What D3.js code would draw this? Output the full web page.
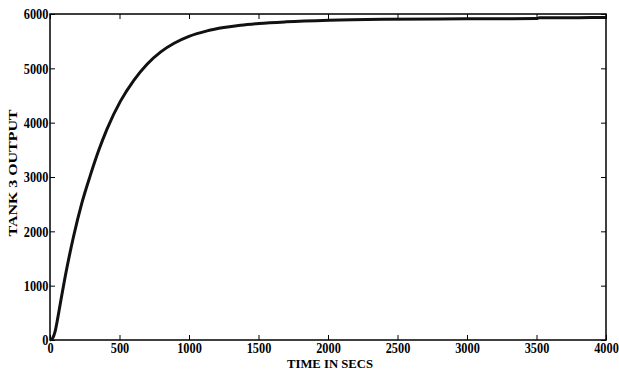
<!DOCTYPE html>
<html><head><meta charset="utf-8">
<script src="https://cdn.jsdelivr.net/npm/d3@7"></script>
<style>body{margin:0;background:#fff}svg{display:block}</style>
</head><body>
<svg id="c" width="619" height="382"></svg>
<script>
const timeSecs = [0, 18, 36, 54, 72, 108, 169, 229, 290, 350, 410, 507, 603, 700, 797, 893, 1000, 1130, 1250, 1370, 1503, 1700, 2008, 2400, 2800, 3200, 3500, 3520, 3800, 4000];
const tank3Output = [0, 30, 150, 380, 640, 1150, 1900, 2520, 3030, 3486, 3882, 4396, 4780, 5081, 5304, 5462, 5588, 5689, 5751, 5794, 5826, 5856, 5884, 5902, 5910, 5913, 5915, 5932, 5933, 5934];
const xTicks = [0, 500, 1000, 1500, 2000, 2500, 3000, 3500, 4000];
const yTicks = [0, 1000, 2000, 3000, 4000, 5000, 6000];

const svg = d3.select('#c');
const L = 50, R = 606, T = 14, B = 340;
const x = d3.scaleLinear().domain([0, 4000]).range([L, R]);
const y = d3.scaleLinear().domain([0, 6000]).range([B, T]);
const font = '"Liberation Serif","Times New Roman",serif';

svg.append('rect').attr('x', L).attr('y', T).attr('width', R - L).attr('height', B - T)
  .attr('fill', 'none').attr('stroke', '#000').attr('stroke-width', 1.5);

const styleAxis = (g, scaleText) => {
  g.select('.domain').remove();
  g.selectAll('.tick line').attr('stroke', '#000').attr('stroke-width', 1);
  g.selectAll('.tick text').attr('fill', '#000').attr('font-family', font)
    .attr('font-weight', 'bold').attr('font-size', 15);
  if (scaleText) g.selectAll('.tick text').attr('transform', 'scale(0.82,1)');
};

svg.append('g').attr('transform', `translate(0,${B})`)
  .call(d3.axisBottom(x).tickValues(xTicks).tickSizeInner(-5).tickSizeOuter(0).tickPadding(2).tickFormat(d3.format('d')))
  .call(g => styleAxis(g, true));
svg.append('g').attr('transform', `translate(0,${T})`)
  .call(d3.axisTop(x).tickValues(xTicks).tickSizeInner(-5).tickSizeOuter(0).tickFormat(''))
  .call(g => styleAxis(g, false));
svg.append('g').attr('transform', `translate(${L},0)`)
  .call(d3.axisLeft(y).tickValues(yTicks).tickSizeInner(-5).tickSizeOuter(0).tickPadding(2).tickFormat(d3.format('d')))
  .call(g => styleAxis(g, true));
svg.append('g').attr('transform', `translate(${R},0)`)
  .call(d3.axisRight(y).tickValues(yTicks).tickSizeInner(-5).tickSizeOuter(0).tickFormat(''))
  .call(g => styleAxis(g, false));

const pts = timeSecs.map((t, i) => [t, tank3Output[i]]);
svg.append('path').datum(pts)
  .attr('fill', 'none').attr('stroke', '#111').attr('stroke-width', 3)
  .attr('stroke-linejoin', 'round')
  .attr('d', d3.line().x(d => x(d[0])).y(d => y(d[1])).curve(d3.curveMonotoneX));

svg.append('text').attr('x', 330).attr('y', 368).attr('text-anchor', 'middle')
  .attr('font-family', font).attr('font-weight', 'bold').attr('font-size', 12)
  .attr('textLength', 86).attr('lengthAdjust', 'spacingAndGlyphs')
  .text('TIME IN SECS');
svg.append('text').attr('transform', 'translate(17,173) rotate(-90)').attr('text-anchor', 'middle')
  .attr('font-family', font).attr('font-weight', 'bold').attr('font-size', 12)
  .attr('textLength', 127).attr('lengthAdjust', 'spacingAndGlyphs')
  .text('TANK 3 OUTPUT');
</script>
</body></html>
